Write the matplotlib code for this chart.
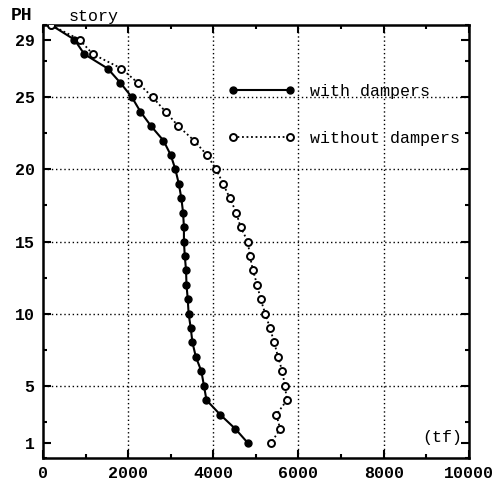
#!/usr/bin/python

from matplotlib import pyplot as plt
from matplotlib.ticker import MultipleLocator
import numpy as np

# story numbers, 30 = PH
stories = np.arange(30, 0, -1)

# story shear (tf), read from top (PH) down to story 1
with_dampers = [200, 740, 970, 1520, 1820, 2090, 2290, 2540, 2830, 3000,
                3110, 3190, 3250, 3290, 3310, 3310, 3330, 3360, 3370, 3400,
                3420, 3470, 3510, 3590, 3720, 3780, 3840, 4160, 4520, 4820]
without_dampers = [200, 860, 1170, 1840, 2230, 2580, 2880, 3180, 3550, 3850,
                   4070, 4230, 4390, 4540, 4640, 4810, 4860, 4930, 5030, 5110,
                   5220, 5330, 5430, 5520, 5620, 5680, 5730, 5480, 5570, 5350]

xticks = [0, 2000, 4000, 6000, 8000, 10000]
yticks = [1, 5, 10, 15, 20, 25, 29]
xgrid = [2000, 4000, 6000, 8000]
ygrid = [5, 10, 15, 20, 25]


def main():
  plt.rcParams['font.family'] = ['Liberation Mono', 'DejaVu Sans Mono']
  fig = plt.figure(figsize=(4.94, 4.86), dpi=100)
  ax = fig.add_axes([0.087, 0.058, 0.862, 0.89])

  for x in xgrid:
    ax.axvline(x, color='k', lw=1.0, ls=(0, (1, 2)), zorder=1)
  for y in ygrid:
    ax.axhline(y, color='k', lw=1.0, ls=(0, (1, 2)), zorder=1)

  ax.plot(with_dampers, stories, '-', color='k', lw=1.5, marker='o',
          ms=5, mfc='k', mec='k', label='with dampers', zorder=3)
  ax.plot(without_dampers, stories, color='k', lw=1.3, ls=(0, (1, 1.5)),
          marker='o', ms=5, mfc='white', mec='k', mew=1.4,
          label='without dampers', zorder=3)

  ax.set_xlim(0, 10000)
  ax.set_ylim(0, 30)
  ax.set_xticks(xticks)
  ax.set_yticks(yticks)
  ax.xaxis.set_minor_locator(MultipleLocator(1000))
  ax.yaxis.set_minor_locator(MultipleLocator(2.5))
  ax.tick_params(which='both', direction='in', top=True, right=True,
                 labelsize=12, width=1.5)
  ax.tick_params(which='major', length=6, pad=6)
  ax.tick_params(which='minor', length=3)
  for lab in ax.get_xticklabels() + ax.get_yticklabels():
    lab.set_fontweight('bold')
  for s in ax.spines.values():
    s.set_linewidth(1.8)

  ax.text(-0.05, 1.023, 'PH', transform=ax.transAxes, fontsize=13,
          fontweight='bold', ha='center', va='center')
  ax.text(0.06, 1.004, 'story', transform=ax.transAxes, fontsize=12,
          ha='left', va='bottom')
  ax.text(0.985, 0.03, '(tf)', transform=ax.transAxes, fontsize=12,
          ha='right', va='bottom')

  ax.legend(loc='upper left', bbox_to_anchor=(0.42, 0.88), frameon=False,
            numpoints=2, handlelength=4.0, handletextpad=0.9,
            labelspacing=1.9, fontsize=12, borderaxespad=0)

  fig.savefig('out.png', dpi=100)


if __name__ == '__main__':
  main()
